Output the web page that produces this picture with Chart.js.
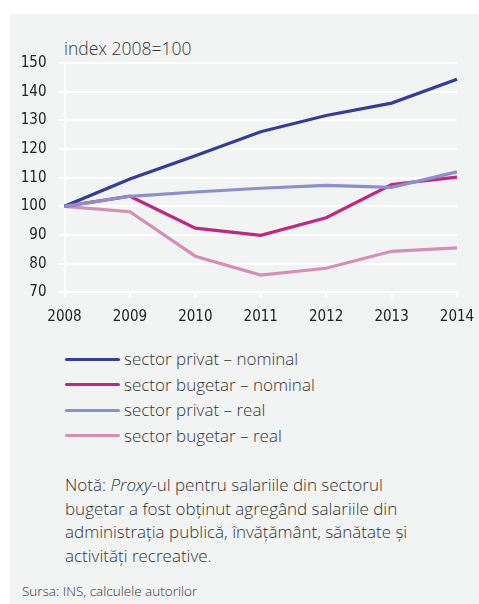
<!DOCTYPE html>
<html>
<head>
<meta charset="utf-8">
<script src="https://cdn.jsdelivr.net/npm/chart.js@4"></script>
<style>
  body { margin: 0; background: #fff; width: 479px; height: 604px; overflow: hidden; }
  #box { position: absolute; left: 10px; top: 14px; width: 469px; height: 590px; background: #f2f3f3; }
  #wrap { position: absolute; left: 10px; top: 14px; width: 469px; height: 320px; }
  .txt { position: absolute; font-family: "Open Sans", "Noto Sans", sans-serif; color: #333; font-weight: 300; }
  #unit { left: 64px; top: 36px; font-size: 17.5px; }
  #legend { left: 65px; top: 346px; font-size: 17px; }
  #legend .row { height: 25.5px; line-height: 25.5px; white-space: nowrap; }
  #legend .sw { display: inline-block; width: 55px; height: 3px; border-radius: 2px; vertical-align: middle; margin-right: 4px; position: relative; top: -1px; }
  #note { left: 65px; top: 473px; font-size: 17px; line-height: 23.5px; width: 350px; }
  #src { left: 22px; top: 582px; font-size: 13.5px; }
</style>
</head>
<body>
<div id="box"></div>
<div class="txt" id="unit">index 2008=100</div>
<div id="wrap"><canvas id="myChart"></canvas></div>
<div class="txt" id="legend"></div>
<div class="txt" id="note">Notă: <i>Proxy</i>-ul pentru salariile din sectorul bugetar a fost obținut agregând salariile din administrația publică, învățământ, sănătate și activități recreative.</div>
<div class="txt" id="src">Sursa: INS, calculele autorilor</div>
<script>
// date
var years = ["2008", "2009", "2010", "2011", "2012", "2013", "2014"];
var privatNominal = [100, 109.5, 117.6, 126, 131.7, 136, 144.3];
var bugetarNominal = [100, 103.5, 92.4, 89.9, 96, 107.6, 110.2];
var privatReal = [100, 103.5, 105, 106.3, 107.3, 106.6, 112];
var bugetarReal = [100, 98.1, 82.6, 76, 78.4, 84.3, 85.5];
var seriesNames = ["sector privat – nominal", "sector bugetar – nominal", "sector privat – real", "sector bugetar – real"];
var seriesColors = ["#343e98", "#c0287f", "#8b8fcc", "#d68fb4"];
var yMin = 70, yMax = 150, yStep = 10;

var allData = [privatNominal, bugetarNominal, privatReal, bugetarReal];
var drawOrder = [1, 2, 0, 3];

var datasets = [];
for (var i = 0; i < allData.length; i++) {
  datasets.push({
    label: seriesNames[i],
    data: allData[i],
    borderColor: seriesColors[i],
    backgroundColor: seriesColors[i],
    borderWidth: 3.2,
    pointRadius: 0,
    tension: 0,
    order: drawOrder[i]
  });
}

// legenda
var leg = document.getElementById("legend");
for (var i = 0; i < seriesNames.length; i++) {
  leg.insertAdjacentHTML("beforeend",
    `<div class="row"><span class="sw" style="background:${seriesColors[i]}"></span>${seriesNames[i]}</div>`);
}

var axisFont = { family: "'DejaVu Sans Condensed', 'Liberation Sans Narrow', sans-serif", size: 15 };

var ctx = document.getElementById("myChart");
var myChart = new Chart(ctx, {
  type: "line",
  data: { labels: years, datasets: datasets },
  options: {
    responsive: true,
    maintainAspectRatio: false,
    animation: false,
    layout: { padding: { left: 0, top: 49, right: 22, bottom: 0 } },
    plugins: { legend: { display: false }, tooltip: { enabled: false } },
    scales: {
      x: {
        offset: false,
        grid: { display: true, drawOnChartArea: false, color: "#ffffff", lineWidth: 2, tickLength: 5 },
        border: { display: false },
        ticks: { color: "#222", font: axisFont, padding: 11, maxRotation: 0 },
        afterFit: function (scale) {
          scale.height = 41.7;
          scale.paddingLeft = 0;
          scale.paddingRight = 0;
        }
      },
      y: {
        min: yMin,
        max: yMax,
        grid: { color: "#ffffff", lineWidth: 2, tickLength: 6 },
        border: { display: true, color: "#ffffff", width: 2 },
        ticks: { stepSize: yStep, color: "#222", font: axisFont, padding: 12 },
        afterFit: function (scale) {
          scale.width = 54.5;
          scale.paddingTop = 0;
          scale.paddingBottom = 0;
        }
      }
    }
  }
});
</script>
</body>
</html>
